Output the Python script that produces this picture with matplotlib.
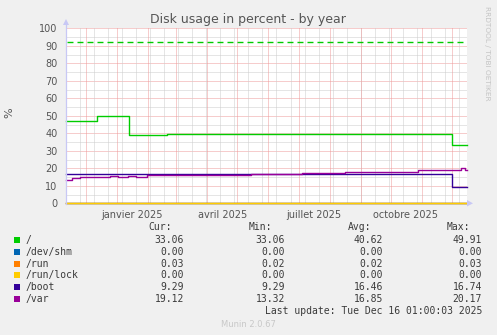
import matplotlib
matplotlib.use("Agg")
import matplotlib.pyplot as plt
import matplotlib.dates as mdates
from matplotlib.patches import Rectangle, Polygon
import pandas as pd

plt.rcParams['lines.scale_dashes'] = False

W, H = 497, 335
title = "Disk usage in percent - by year"
start = pd.Timestamp("2024-11-11 01:00")
end = pd.Timestamp("2025-12-16 01:00")

# series (step data)
root_dates = ["2024-11-11", "2024-12-12", "2025-01-13", "2025-02-20", "2025-12-01"]
root_vals = [47.3, 49.91, 39.2, 39.5, 33.06]
shm_dates = ["2024-11-11"]
shm_vals = [0.0]
run_dates = ["2024-11-11", "2025-06-01"]
run_vals = [0.02, 0.03]
runlock_dates = ["2024-11-11"]
runlock_vals = [0.0]
boot_dates = ["2024-11-11", "2025-12-01"]
boot_vals = [16.74, 9.29]
var_dates = ["2024-11-11", "2024-11-17", "2024-11-25", "2024-12-15", "2024-12-25",
             "2025-01-02", "2025-01-12", "2025-01-20", "2025-01-31", "2025-02-14",
             "2025-02-24", "2025-03-10", "2025-03-25", "2025-04-20", "2025-05-15",
             "2025-06-10", "2025-07-04", "2025-07-25", "2025-08-16", "2025-09-10",
             "2025-10-05", "2025-10-28", "2025-12-06", "2025-12-10", "2025-12-14"]
var_vals = [13.32, 14.2, 14.9, 15.2, 15.5, 15.2, 15.5, 15.2, 15.9, 16.2,
            15.9, 16.2, 16.3, 16.4, 16.6, 17.0, 17.2, 17.5, 17.7, 17.8,
            18.1, 18.9, 19.0, 20.17, 19.12]
critical = 92

names = ["/", "/dev/shm", "/run", "/run/lock", "/boot", "/var"]
colors = ["#00CC00", "#0066B3", "#FF8000", "#FFCC00", "#330099", "#990099"]
cur = ["33.06", "0.00", "0.03", "0.00", "9.29", "19.12"]
mins = ["33.06", "0.00", "0.02", "0.00", "9.29", "13.32"]
avgs = ["40.62", "0.00", "0.02", "0.00", "16.46", "16.85"]
maxs = ["49.91", "0.00", "0.03", "0.00", "16.74", "20.17"]

tick_dates = ["2025-01-16", "2025-04-16", "2025-07-16", "2025-10-16"]
tick_labels = ["janvier 2025", "avril 2025", "juillet 2025", "octobre 2025"]
yticks = [0, 10, 20, 30, 40, 50, 60, 70, 80, 90, 100]

fig = plt.figure(figsize=(W / 100, H / 100), dpi=100)
fig.patch.set_facecolor("#F0F0F0")

x0, x1 = 66, 467
y_top, y_bot = 28.3, 203.3
ax = fig.add_axes([x0 / W, 1 - y_bot / H, (x1 - x0) / W, (y_bot - y_top) / H])
ax.set_facecolor("white")
ax.set_xlim(start, end)
ax.set_ylim(0, 100)
for s in ax.spines.values():
    s.set_visible(False)

# grid
px = 0.72
dot = (0, (1 * px, 1 * px))
gkw = dict(lw=px, ls=dot, zorder=1)
for v in range(5, 100, 10):
    ax.axhline(v, color="#cccccc", **gkw)
for v in range(10, 101, 10):
    ax.axhline(v, color="#ee9a9a", **gkw)
biweek = pd.date_range("2024-11-25", end, freq="14D")
for d in biweek:
    ax.axvline(d, color="#cccccc", **gkw)
months = pd.date_range("2024-12-01", end, freq="MS")
for d in months:
    ax.axvline(d, color="#ee9a9a", **gkw)

def step(dates, vals, color, z):
    d = list(pd.to_datetime(dates)) + [end]
    v = list(vals) + [vals[-1]]
    ax.plot(d, v, drawstyle="steps-post", color=color, lw=1.0, zorder=z, clip_on=False)

step(root_dates, root_vals, colors[0], 3)
step(shm_dates, shm_vals, colors[1], 3)
step(run_dates, run_vals, colors[2], 3)
step(runlock_dates, runlock_vals, colors[3], 3)
step(boot_dates, boot_vals, colors[4], 3)
step(var_dates, var_vals, colors[5], 3)

ax.axhline(critical, color="#00CC00", lw=1.0, ls=(0, (4.3, 2.9)), zorder=2,
           xmin=0.003, xmax=0.99)

ax.set_yticks(yticks)
ax.set_yticklabels([str(v) for v in yticks], fontsize=7, color="#555555")
ax.set_xticks(pd.to_datetime(tick_dates))
ax.set_xticklabels(tick_labels, fontsize=7, color="#555555")
ax.tick_params(length=0, pad=5)
ax.tick_params(axis="y", pad=6)

# axis lines with arrows (figure pixel coords)
def fx(x):
    return x / W
def fy(y):
    return 1 - y / H

fig.add_artist(plt.Line2D([fx(66), fx(66)], [fy(204), fy(24)], color="#c8c8f5", lw=0.9))
fig.add_artist(Polygon([[fx(63), fy(25)], [fx(69), fy(25)], [fx(66), fy(19)]],
                       closed=True, color="#c8c8f5", lw=0))
fig.add_artist(Polygon([[fx(467), fy(200)], [fx(467), fy(206.5)], [fx(473), fy(203.3)]],
                       closed=True, color="#c8c8f5", lw=0))

fig.text(248 / W, fy(19.5), title, ha="center", va="center", fontsize=9, color="#555555")
fig.text(fx(9.5), fy(113), "%", rotation=90, ha="center", va="center", fontsize=8, color="#555555")
fig.text(fx(487.5), fy(53), "RRDTOOL / TOBI OETIKER", rotation=270, ha="center", va="center",
         fontsize=5.3, color="#c4c4c4")

mono = dict(family="DejaVu Sans Mono", fontsize=7, color="#3a3a3a")
header_y = 227.3
fig.text(fx(172), fy(header_y), "Cur:", ha="right", va="center", **mono)
fig.text(fx(272), fy(header_y), "Min:", ha="right", va="center", **mono)
fig.text(fx(371), fy(header_y), "Avg:", ha="right", va="center", **mono)
fig.text(fx(470), fy(header_y), "Max:", ha="right", va="center", **mono)

row_y = [240, 251.8, 263.6, 275.4, 287.2, 299.2]
for i, nm in enumerate(names):
    y = row_y[i]
    fig.add_artist(Rectangle((fx(14), fy(y + 3)), 6 / W, 6 / H, color=colors[i], lw=0))
    fig.text(fx(26), fy(y), nm, ha="left", va="center", **mono)
    fig.text(fx(184), fy(y), cur[i], ha="right", va="center", **mono)
    fig.text(fx(285), fy(y), mins[i], ha="right", va="center", **mono)
    fig.text(fx(383), fy(y), avgs[i], ha="right", va="center", **mono)
    fig.text(fx(482), fy(y), maxs[i], ha="right", va="center", **mono)

fig.text(fx(482), fy(311), "Last update: Tue Dec 16 01:00:03 2025", ha="right", va="center", **mono)
fig.text(fx(248), fy(324.5), "Munin 2.0.67", ha="center", va="center", fontsize=6, color="#c8c8c8")

fig.savefig("out.png", dpi=100, facecolor=fig.get_facecolor())
